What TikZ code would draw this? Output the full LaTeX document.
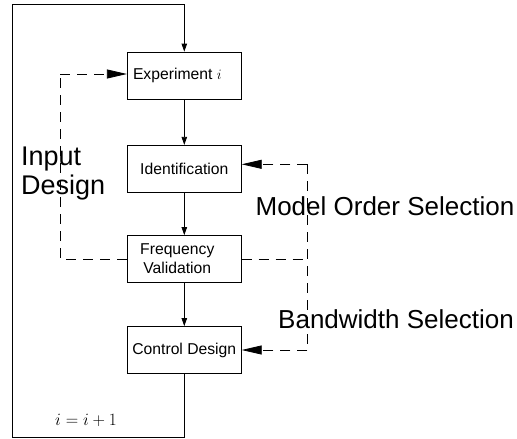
\documentclass[tikz,border=0pt]{standalone}
\usepackage{fontspec}
\setmainfont{Liberation Sans}
\usetikzlibrary{arrows.meta}
\begin{document}
\begin{tikzpicture}[x=1pt,y=-1pt,
  box/.style={draw, line width=0.8pt, minimum width=114pt, minimum height=47pt, inner sep=0pt,
    font=\fontsize{15.7}{18.7}\selectfont, align=center},
  flow/.style={line width=0.8pt, -{Triangle[length=8pt,width=5.5pt]}},
  feedback/.style={line width=0.8pt, dash pattern=on 10pt off 7pt},
  bigtip/.style={-{Triangle[length=20pt,width=9pt]}},
  lbl/.style={font=\fontsize{27}{29}\selectfont, inner sep=0pt},
  rlbl/.style={font=\fontsize{26}{28}\selectfont, inner sep=0pt},
  mathlbl/.style={font=\fontsize{19}{19}\selectfont, inner sep=0pt}]
\useasboundingbox (0,0) rectangle (517,439);

\node[box] (exp)   at (184.3,75.5)  {\hspace*{-14pt}Experiment $i$};
\node[box] (ident) at (184.3,168.75) {Identification};
\node[box] (freq)  at (184.3,259)   {\hspace*{-14pt}Frequency\\\hspace*{-14pt}Validation};
\node[box] (ctrl)  at (184.3,350)   {Control Design};

\coordinate (tl) at (12.3,4);
\coordinate (bl) at (12.3,437);
\coordinate (il) at (60,74);
\coordinate (rtop) at (307.3,164.3);
\coordinate (rbot) at (307.3,350);

% solid flow
\draw[flow] (exp) -- (ident);
\draw[flow] (ident) -- (freq);
\draw[flow] (freq) -- (ctrl);
\draw[flow] (ctrl.south) -- (ctrl.south |- bl) -- (bl) -- (tl) -- (tl -| exp.north) -- (exp.north);

% dashed feedback
\draw[feedback] (freq.west) -- (freq.west -| il) -- (il);
\draw[feedback, bigtip] (il) -- (il -| exp.west);
\draw[feedback] (freq.east) -- (freq.east -| rtop);
\draw[feedback] (rtop) -- (rbot);
\draw[feedback, bigtip] (rtop) -- (rtop -| ident.east);
\draw[feedback, bigtip] (rbot) -- (ctrl.east);

% labels
\node[lbl, anchor=north west, align=left] (indes) at (21,146.5) {Input\\Design};
\node[rlbl, anchor=base east] (mos) at (514.5,215) {Model Order Selection};
\node[rlbl, anchor=base east] (bws) at (514,328) {Bandwidth Selection};
\node[mathlbl, anchor=base west] (iter) at (55,425) {$i=i+1$};
\end{tikzpicture}
\end{document}
